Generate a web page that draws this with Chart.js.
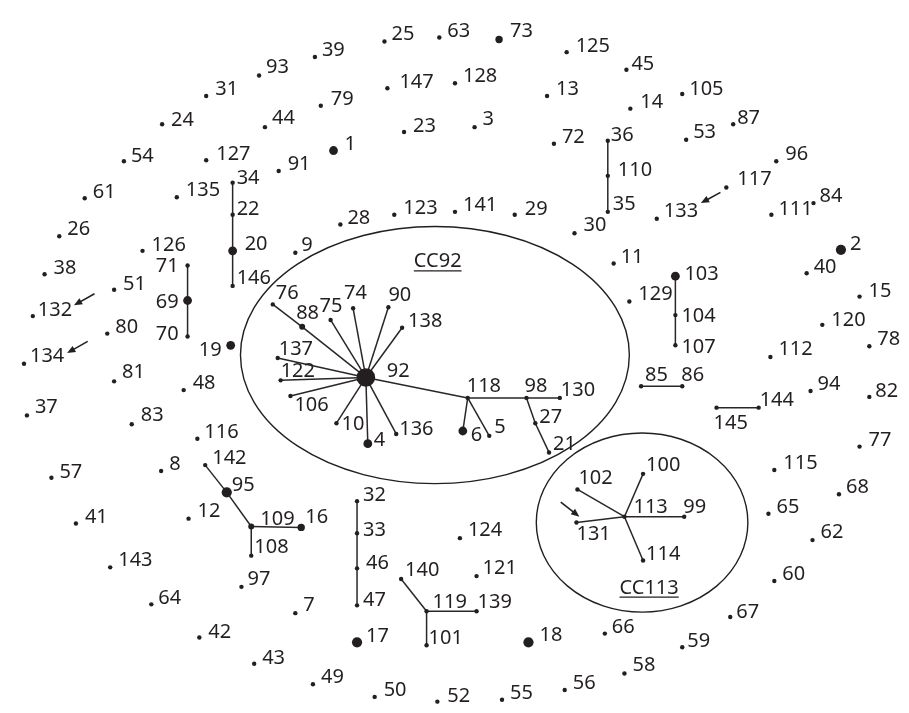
<!DOCTYPE html>
<html>
<head>
<meta charset="utf-8">
<script src="https://cdn.jsdelivr.net/npm/chart.js@4.4.1/dist/chart.umd.min.js"></script>
<style>
  html, body { margin: 0; padding: 0; background: #fff; }
  #wrap { width: 909px; height: 713px; }
  canvas { display: block; }
</style>
</head>
<body>
<div id="wrap"><canvas id="c" width="909" height="713"></canvas></div>
<script>
// Sequence types (ST numbers) of the minimum spanning tree
const stIds = [
  1,2,3,4,5,6,7,8,9,10,11,12,13,14,15,16,17,18,19,20,
  21,22,23,24,25,26,27,28,29,30,31,32,33,34,35,36,37,38,39,40,
  41,42,43,44,45,46,47,48,49,50,51,52,53,54,55,56,57,58,59,60,
  61,62,63,64,65,66,67,68,69,70,71,72,73,74,75,76,77,78,79,80,
  81,82,83,84,85,86,87,88,90,91,92,93,94,95,96,97,98,99,100,
  101,102,103,104,105,106,107,108,109,110,111,112,113,114,115,116,117,118,119,120,
  121,122,123,124,125,126,127,128,129,130,131,132,133,134,135,136,137,138,139,140,
  141,142,143,144,145,146,147
];

// Layout coordinates of each ST (same order as stIds)
const stX = [
  331,849,475,366,490,463,292,155,292,334,617,183,549,634,868,298,355,530,226,228,
  551,228,403,156,383,51,537,338,516,577,201,355,355,228,611,611,18,36,312,814,
  68,194,250,261,630,355,355,178,310,373,107,437,691,117,503,567,43,628,687,781,
  77,820,439,145,775,608,736,847,182,182,182,556,500,351,328,269,868,878,318,100,
  107,878,125,821,645,687,739,299,387,275,364,255,818,222,783,237,528,689,647,
  426,580,680,680,687,287,680,247,247,611,778,777,628,647,781,192,732,468,426,830,
  477,277,393,460,569,136,201,455,633,562,579,24,661,15,171,395,274,401,477,400,
  455,200,103,765,722,228,386
];
const stY = [
  145,247,121,446,438,433,620,474,250,425,261,523,89,102,295,532,650,650,345,248,
  455,211,126,118,33,233,425,221,211,230,89,505,538,178,208,135,417,272,49,271,
  528,645,672,121,62,574,612,391,693,706,288,711,134,156,709,699,481,682,655,587,
  194,545,29,611,518,641,624,498,299,336,263,138,31,307,319,303,449,346,99,333,
  382,398,426,199,387,387,118,326,306,166,378,68,392,496,156,593,399,521,477,
  653,493,274,314,87,397,345,561,531,171,211,357,521,566,473,441,183,399,618,324,
  582,381,211,543,44,248,155,76,300,399,527,315,215,364,193,436,358,327,618,585,
  208,468,573,409,409,284,81
];

// Number of isolates represented by each ST (1 unless listed)
const stIsolates = { 92: 11, 95: 5, 17: 5, 18: 5, 2: 5, 1: 4, 20: 4, 69: 4, 19: 4,
                     4: 4, 6: 4, 103: 4, 16: 3, 73: 3, 88: 2, 109: 2 };

// Tree links between STs
const links = [
  [34,22],[22,20],[20,146],
  [71,69],[69,70],
  [36,110],[110,35],
  [103,104],[104,107],
  [85,86],[144,145],
  [92,88],[88,76],[92,75],[92,74],[92,90],[92,138],[92,137],[92,122],
  [92,106],[92,10],[92,4],[92,136],[92,118],
  [118,98],[98,130],[118,6],[118,5],[98,27],[27,21],
  [113,102],[113,131],[113,100],[113,99],[113,114],
  [95,142],[95,109],[109,16],[109,108],
  [32,33],[33,46],[46,47],
  [140,119],[119,139],[119,101]
];

// Clonal complexes
const complexNames = ['CC92', 'CC113'];

// ---- drawing layout -------------------------------------------------------
const INK = '#231f20';
const FONT = '20px "Noto Sans", "Open Sans", sans-serif';

// label offset from its dot: [dx, dy(baseline), align]
const labelOffset = {
  1:[11,-1],2:[9,0],3:[8,-2],4:[6,2],5:[5,-3],6:[8,10],7:[8,-2],8:[8,-1],9:[6,-2],10:[5,7],
  11:[7,0],12:[9,-2],13:[9,-1],14:[10,-1],15:[9,0],16:[4,-4],17:[9,0],18:[11,-1],19:[-9,11,'right'],20:[12,-1],
  21:[4,-2],22:[4,0],23:[9,0],24:[9,2],25:[7,-1],26:[8,-1],27:[4,0],28:[7,-1],29:[10,0],30:[9,-2],
  31:[9,-1],32:[6,0],33:[6,3],34:[4,1],35:[5,-2],36:[3,0],37:[8,-2],38:[9,0],39:[7,-1],40:[7,0],
  41:[9,-1],42:[9,1],43:[8,0],44:[7,-3],45:[5,0],46:[9,1],47:[6,1],48:[9,-1],49:[8,-1],50:[9,-1],
  51:[9,0],52:[10,0],53:[7,-2],54:[7,1],55:[8,-1],56:[8,-1],57:[8,0],58:[8,-3],59:[5,0],60:[8,-1],
  61:[8,0],62:[8,-2],63:[8,-1],64:[7,0],65:[8,-1],66:[7,-1],67:[6,1],68:[7,-1],69:[-9,7,'right'],70:[-9,3,'right'],
  71:[-9,7,'right'],72:[8,-1],73:[11,-2],74:[-9,-9],75:[-11,-8],76:[3,-5],77:[9,-1],78:[8,-1],79:[10,-1],80:[8,-1],
  81:[8,-3],82:[6,0],83:[9,-3],84:[6,-1],85:[4,-5],86:[-1,-5],87:[4,0],88:[-6,-8],90:[0,-6],
  91:[9,-1],92:[21,0],93:[7,-3],94:[7,-1],95:[5,-1],96:[9,-1],97:[6,-2],98:[-2,-6],99:[-1,-4],100:[3,-3],
  101:[2,-1],102:[1,-5],103:[9,4],104:[6,7],105:[7,1],106:[4,15],107:[6,8],108:[3,-3],109:[9,-1],110:[10,0],
  111:[7,0],112:[8,-2],113:[9,-4],114:[3,-1],115:[9,-1],116:[7,-1],117:[11,-3],118:[-1,-6],119:[6,-3],120:[9,1],
  121:[6,-2],122:[0,-3],123:[9,-1],124:[8,-2],125:[9,0],126:[9,0],127:[10,0],128:[8,-1],129:[9,-1],130:[1,-2],
  131:[0,17],132:[5,0],133:[7,-2],134:[6,-2],135:[9,-1],136:[3,1],137:[1,-3],138:[6,-1],139:[1,-3],140:[4,-3],
  141:[8,-1],142:[7,-1],143:[8,-1],144:[1,-2],145:[-3,21],146:[4,-2],147:[12,0]
};

// outlines and captions of the clonal complexes
const complexShape = {
  CC92:  { cx: 434.5, cy: 355, rx: 198.5, ry: 132, tx: 413, ty: 265 },
  CC113: { cx: 646,   cy: 527, rx: 108,   ry: 92,  tx: 623, ty: 600 }
};

// pointer arrows [fromX, fromY, toX, toY]
const pointers = [
  [726, 188, 706, 199],
  [87, 292, 66, 304],
  [80, 341, 59, 353],
  [563, 506, 582, 521]
];

// ---- build chart data -----------------------------------------------------
const posOf = {};
stIds.forEach((id, i) => { posOf[id] = { x: stX[i], y: stY[i] }; });
const weightOf = id => stIsolates[id] || 1;
const radiusOf = w => (w === 1 ? 2.2 : 1.6 + 0.7 * w);

const nodeData = stIds.map(id => ({ x: posOf[id].x, y: posOf[id].y, id }));

const datasets = [{
  type: 'scatter',
  label: 'ST',
  data: nodeData,
  pointRadius: nodeData.map(p => radiusOf(weightOf(p.id))),
  pointHoverRadius: nodeData.map(p => radiusOf(weightOf(p.id))),
  pointBackgroundColor: INK,
  pointBorderWidth: 0,
  order: 0
}];

links.forEach(([a, b]) => {
  datasets.push({
    type: 'scatter',
    showLine: true,
    data: [posOf[a], posOf[b]],
    borderColor: '#2a2627',
    borderWidth: 1.5,
    pointRadius: 0,
    pointHoverRadius: 0,
    order: 1
  });
});

const diagramPlugin = {
  id: 'diagram',
  beforeDatasetsDraw(chart) {
    const { ctx, scales: { x, y } } = chart;
    ctx.save();
    ctx.strokeStyle = INK;
    ctx.lineWidth = 1.4;
    complexNames.forEach(name => {
      const s = complexShape[name];
      const cx = x.getPixelForValue(s.cx), cy = y.getPixelForValue(s.cy);
      const rx = Math.abs(x.getPixelForValue(s.cx + s.rx) - cx);
      const ry = Math.abs(y.getPixelForValue(s.cy + s.ry) - cy);
      ctx.beginPath();
      ctx.ellipse(cx, cy, rx, ry, 0, 0, Math.PI * 2);
      ctx.stroke();
    });
    ctx.restore();
  },
  afterDatasetsDraw(chart) {
    const { ctx, scales: { x, y } } = chart;
    ctx.save();
    ctx.font = FONT;
    ctx.fillStyle = INK;
    ctx.textBaseline = 'alphabetic';

    // ST labels
    stIds.forEach(id => {
      const off = labelOffset[id] || [8, -1];
      ctx.textAlign = off[2] || 'left';
      ctx.fillText(String(id),
        x.getPixelForValue(posOf[id].x) + off[0],
        y.getPixelForValue(posOf[id].y) + off[1]);
    });

    // clonal complex captions, underlined
    ctx.textAlign = 'left';
    ctx.strokeStyle = INK;
    ctx.lineWidth = 1.3;
    complexNames.forEach(name => {
      const s = complexShape[name];
      const tx = x.getPixelForValue(s.tx), ty = y.getPixelForValue(s.ty);
      ctx.fillText(name, tx, ty);
      const w = ctx.measureText(name).width;
      ctx.beginPath();
      ctx.moveTo(tx, ty + 3.5);
      ctx.lineTo(tx + w, ty + 3.5);
      ctx.stroke();
    });

    // pointer arrows
    ctx.lineWidth = 1.6;
    pointers.forEach(([x1, y1, x2, y2]) => {
      const ax = x.getPixelForValue(x1), ay = y.getPixelForValue(y1);
      const bx = x.getPixelForValue(x2), by = y.getPixelForValue(y2);
      const ang = Math.atan2(by - ay, bx - ax);
      const head = 9, spread = 0.4;
      ctx.beginPath();
      ctx.moveTo(ax, ay);
      ctx.lineTo(bx - Math.cos(ang) * 5, by - Math.sin(ang) * 5);
      ctx.stroke();
      ctx.beginPath();
      ctx.moveTo(bx, by);
      ctx.lineTo(bx - head * Math.cos(ang - spread), by - head * Math.sin(ang - spread));
      ctx.lineTo(bx - head * Math.cos(ang + spread), by - head * Math.sin(ang + spread));
      ctx.closePath();
      ctx.fill();
    });
    ctx.restore();
  }
};

new Chart(document.getElementById('c'), {
  type: 'scatter',
  data: { datasets },
  options: {
    responsive: false,
    animation: false,
    devicePixelRatio: 1,
    layout: { padding: 0 },
    plugins: { legend: { display: false }, tooltip: { enabled: false } },
    events: [],
    scales: {
      x: { type: 'linear', min: 0, max: 909, display: false },
      y: { type: 'linear', min: 0, max: 713, reverse: true, display: false }
    }
  },
  plugins: [diagramPlugin]
});
</script>
</body>
</html>
